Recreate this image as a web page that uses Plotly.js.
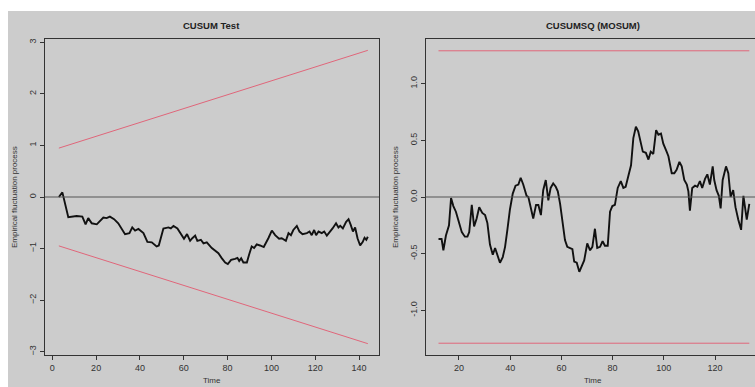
<!DOCTYPE html>
<html>
<head>
<meta charset="utf-8">
<script src="https://cdn.plot.ly/plotly-3.0.1.min.js"></script>
<style>
html,body{margin:0;padding:0;background:#ffffff;overflow:hidden;width:755px;height:387px;}
#chart{position:absolute;left:8px;top:11px;width:770px;height:400px;}
</style>
</head>
<body>
<div id="chart"></div>
<script>
// ---- CUSUM Test (recursive CUSUM) ----
const cusumTime = [3,4.6,7.3,11.1,13.7,15.2,16.4,18,20.3,23.3,24.8,26.3,28.2,30.1,33.2,35.2,36.5,37.8,39.3,41.6,43.4,45.4,47.6,48.6,50.7,53,54.1,55.3,57.1,59.1,60.1,61.5,62.9,63.9,65.2,66.2,67.8,69,70.5,72.8,74.3,75.8,77.4,78.9,80.1,81.6,83.4,84.5,85.3,86.2,87.2,88.8,89.8,91,92.1,93.3,94.8,96.5,98.6,100.2,101.7,103.5,104.7,106.6,107.8,108.9,110,111.6,112.8,114.2,116.2,117.4,118.4,119.5,120.4,121.5,123,124.1,125.3,126.3,127.9,129.5,130.6,131.4,132.6,134.1,135.2,136.2,137.2,138.2,139.3,140.5,141.7,142.5,143.3,144];
const cusumValue = [0,0.09,-0.39,-0.37,-0.38,-0.53,-0.41,-0.51,-0.53,-0.40,-0.41,-0.38,-0.43,-0.51,-0.72,-0.70,-0.59,-0.65,-0.62,-0.70,-0.87,-0.88,-0.96,-0.94,-0.61,-0.59,-0.61,-0.56,-0.61,-0.74,-0.81,-0.72,-0.85,-0.80,-0.75,-0.85,-0.83,-0.90,-0.88,-0.99,-1.05,-1.09,-1.19,-1.27,-1.30,-1.22,-1.20,-1.18,-1.24,-1.19,-1.27,-1.27,-1.12,-0.96,-0.99,-0.92,-0.94,-0.97,-0.80,-0.65,-0.74,-0.81,-0.80,-0.85,-0.70,-0.74,-0.64,-0.56,-0.67,-0.72,-0.70,-0.67,-0.74,-0.64,-0.74,-0.67,-0.70,-0.67,-0.75,-0.70,-0.61,-0.51,-0.59,-0.56,-0.61,-0.48,-0.43,-0.54,-0.67,-0.59,-0.80,-0.94,-0.87,-0.79,-0.83,-0.77];
const cusumBoundTime = [3, 144];
const cusumUpper = [0.948, 2.844];
const cusumLower = [-0.948, -2.844];
const cusumTicksX = [0,20,40,60,80,100,120,140];
const cusumTicksY = [-3,-2,-1,0,1,2,3];

// ---- CUSUMSQ (MOSUM) ----
const mosumTime = [12,13.2,13.9,14.9,16.1,16.9,17.8,18.8,19.7,21.1,22.3,23.3,24,25,25.9,26.9,27.9,29.1,30.2,31.1,32.1,33.2,34.1,35.1,36,37.1,38,38.9,39.9,41,42.1,43.2,44.1,45.1,46.4,47.1,48,49,50.1,51,52,52.9,53.9,54.9,55.8,56.8,57.8,58.6,59.5,60.4,61.4,62.3,63.4,64.3,65,66,67,67.9,68.9,70.1,71.2,72.1,73.1,74,75.1,76.1,77,78.1,79,79.9,80.9,82,83.2,84.2,85.1,86.1,87.2,88.1,89.1,90,90.7,91.8,93,94,94.9,95.9,97,97.9,98.9,99.8,101.1,101.8,103.1,104.1,105,106.1,107,108,109,109.6,110.2,111.1,112.2,113.1,114.1,115,116.1,117,118,119.1,119.7,120.6,121.5,122.2,123,124.3,125.2,126.1,127.1,128,129.1,130.2,131.1,132.4,133.4];
const mosumValue = [-0.37,-0.37,-0.47,-0.34,-0.25,-0.01,-0.08,-0.13,-0.20,-0.31,-0.35,-0.35,-0.31,-0.07,-0.26,-0.19,-0.09,-0.14,-0.16,-0.23,-0.42,-0.51,-0.45,-0.53,-0.58,-0.53,-0.44,-0.29,-0.11,0.03,0.10,0.11,0.17,0.11,0.01,0.00,-0.09,-0.19,-0.07,-0.07,-0.16,0.06,0.15,-0.03,0.08,0.12,0.09,0.05,-0.06,-0.20,-0.38,-0.44,-0.45,-0.46,-0.57,-0.58,-0.66,-0.61,-0.56,-0.41,-0.47,-0.44,-0.28,-0.45,-0.44,-0.39,-0.43,-0.43,-0.13,-0.08,-0.07,0.08,0.14,0.08,0.09,0.18,0.28,0.52,0.62,0.58,0.52,0.40,0.39,0.33,0.40,0.38,0.59,0.55,0.56,0.47,0.40,0.36,0.21,0.21,0.24,0.31,0.27,0.15,0.11,0.05,-0.12,0.08,0.10,0.09,0.14,0.08,0.16,0.20,0.11,0.27,0.15,0.06,0.01,-0.10,0.15,0.27,0.21,0.00,0.06,-0.09,-0.20,-0.29,0.01,-0.20,-0.06];
const mosumBoundTime = [12, 133.4];
const mosumUpper = [1.29, 1.29];
const mosumLower = [-1.29, -1.29];
const mosumTicksX = [20,40,60,80,100,120];
const mosumTicksY = [-1.0,-0.5,0.0,0.5,1.0];
const mosumTickText = ['-1.0','-0.5','0.0','0.5','1.0'];

const titles = ['CUSUM Test', 'CUSUMSQ (MOSUM)'];
const yTitle = 'Empirical fluctuation process';
const xTitle = 'Time';

const RED = '#E0667A';
const BG = '#cccccc';
const FONT = 'Liberation Sans, Arial, sans-serif';

const traces = [
  {x: cusumBoundTime, y: cusumUpper, xaxis:'x', yaxis:'y', mode:'lines', line:{color:RED, width:1}, hoverinfo:'skip'},
  {x: cusumBoundTime, y: cusumLower, xaxis:'x', yaxis:'y', mode:'lines', line:{color:RED, width:1}, hoverinfo:'skip'},
  {x: cusumTime, y: cusumValue, xaxis:'x', yaxis:'y', mode:'lines', line:{color:'#111111', width:1.9}},
  {x: mosumBoundTime, y: mosumUpper, xaxis:'x2', yaxis:'y2', mode:'lines', line:{color:RED, width:1}, hoverinfo:'skip'},
  {x: mosumBoundTime, y: mosumLower, xaxis:'x2', yaxis:'y2', mode:'lines', line:{color:RED, width:1}, hoverinfo:'skip'},
  {x: mosumTime, y: mosumValue, xaxis:'x2', yaxis:'y2', mode:'lines', line:{color:'#111111', width:1.9}}
];

function axisBase(extra){
  return Object.assign({
    showgrid:false, zeroline:false, showline:true, mirror:true,
    linecolor:'#333333', linewidth:1,
    ticks:'outside', ticklen:4, tickcolor:'#333333', tickwidth:1,
    tickfont:{family:FONT, size:9, color:'#333333'},
    fixedrange:true
  }, extra);
}

const W = 770, H = 400;
const layout = {
  width:W, height:H,
  margin:{l:0, r:0, t:0, b:0},
  paper_bgcolor:BG, plot_bgcolor:BG,
  showlegend:false,
  xaxis: axisBase({domain:[37/W, 371/W], range:[-3.33, 149.1], tickvals:cusumTicksX, anchor:'y'}),
  yaxis: axisBase({domain:[56/H, 372/H], range:[-3.064, 3.064], tickvals:cusumTicksY, tickangle:-90, anchor:'x'}),
  xaxis2: axisBase({domain:[417.7/W, 753.6/W], range:[7.0, 138.2], tickvals:mosumTicksX, anchor:'y2'}),
  yaxis2: axisBase({domain:[56/H, 372/H], range:[-1.394, 1.394], tickvals:mosumTicksY, ticktext:mosumTickText, tickangle:-90, anchor:'x2'}),
  shapes: [
    {type:'line', xref:'x domain', x0:0, x1:1, yref:'y', y0:0, y1:0, line:{color:'#555555', width:1}},
    {type:'line', xref:'x2 domain', x0:0, x1:1, yref:'y2', y0:0, y1:0, line:{color:'#555555', width:1}}
  ],
  annotations: [
    {text:'<b>'+titles[0]+'</b>', xref:'paper', yref:'paper', x:204/W, y:(H-15)/H, showarrow:false, xanchor:'center', yanchor:'middle', font:{family:FONT, size:9.5, color:'#222222'}},
    {text:'<b>'+titles[1]+'</b>', xref:'paper', yref:'paper', x:585/W, y:(H-15)/H, showarrow:false, xanchor:'center', yanchor:'middle', font:{family:FONT, size:9.5, color:'#222222'}},
    {text:yTitle, xref:'paper', yref:'paper', x:6/W, y:(H-186)/H, showarrow:false, textangle:-90, xanchor:'center', yanchor:'middle', font:{family:FONT, size:8, color:'#333333'}},
    {text:yTitle, xref:'paper', yref:'paper', x:387/W, y:(H-186)/H, showarrow:false, textangle:-90, xanchor:'center', yanchor:'middle', font:{family:FONT, size:8, color:'#333333'}},
    {text:xTitle, xref:'paper', yref:'paper', x:204/W, y:(H-369)/H, showarrow:false, xanchor:'center', yanchor:'middle', font:{family:FONT, size:8, color:'#333333'}},
    {text:xTitle, xref:'paper', yref:'paper', x:585/W, y:(H-369)/H, showarrow:false, xanchor:'center', yanchor:'middle', font:{family:FONT, size:8, color:'#333333'}}
  ]
};

Plotly.newPlot('chart', traces, layout, {displayModeBar:false, staticPlot:true});
</script>
</body>
</html>
